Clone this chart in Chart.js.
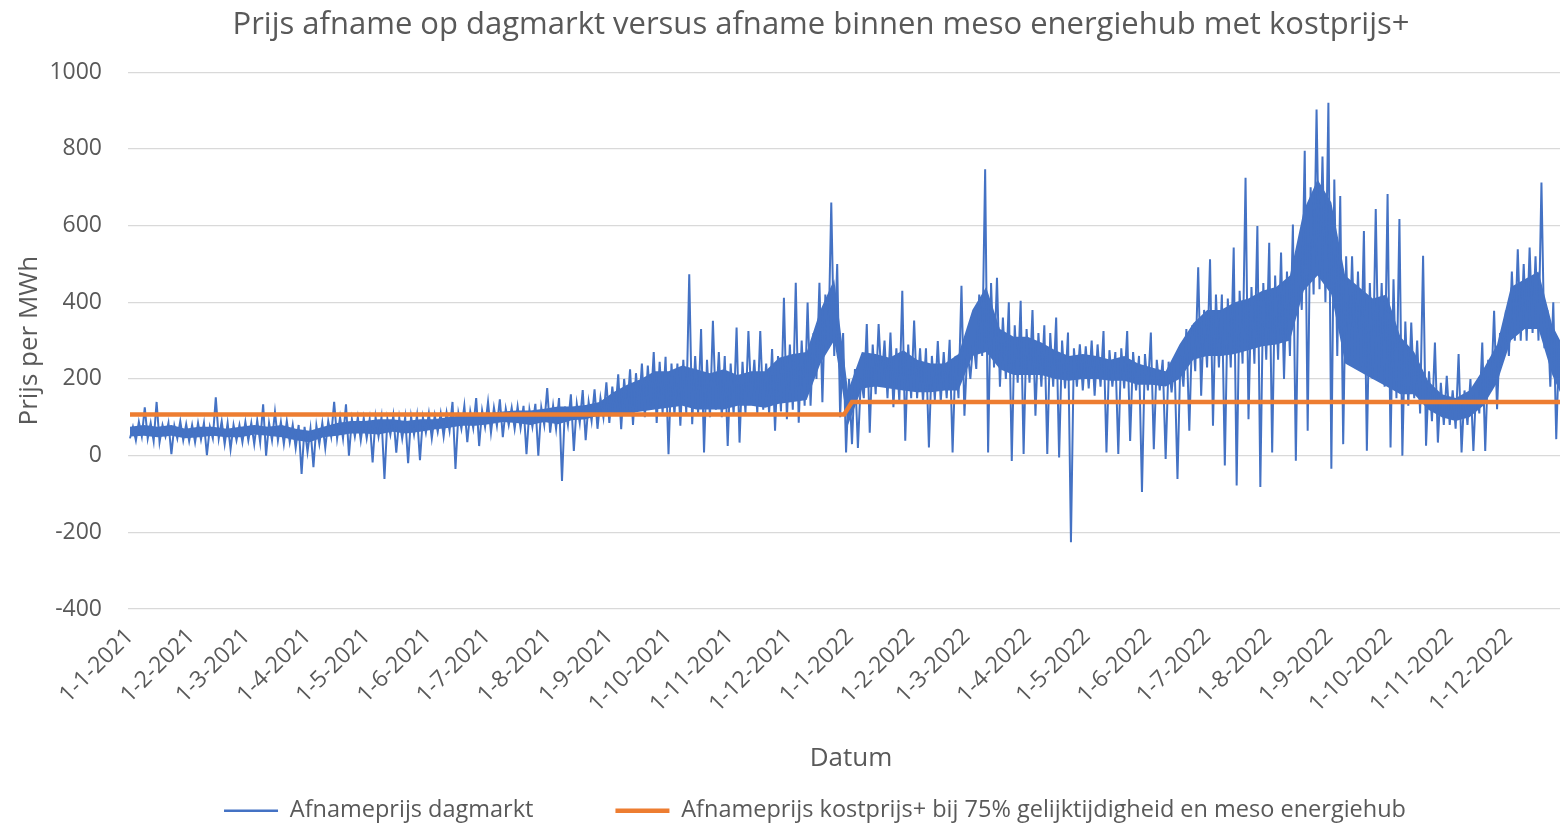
<!DOCTYPE html>
<html>
<head>
<meta charset="utf-8">
<script src="https://cdn.jsdelivr.net/npm/chart.js@4/dist/chart.umd.min.js"></script>
<style>
  html, body { margin: 0; padding: 0; background: #fff; overflow: hidden; }
</style>
</head>
<body>
<canvas id="myChart" width="1574" height="827"></canvas>
<script>
// maanden op de x-as (dag 0 = 1-1-2021)
const maandLabels = ['1-1-2021', '1-2-2021', '1-3-2021', '1-4-2021', '1-5-2021', '1-6-2021',
  '1-7-2021', '1-8-2021', '1-9-2021', '1-10-2021', '1-11-2021', '1-12-2021',
  '1-1-2022', '1-2-2022', '1-3-2022', '1-4-2022', '1-5-2022', '1-6-2022',
  '1-7-2022', '1-8-2022', '1-9-2022', '1-10-2022', '1-11-2022', '1-12-2022'];
const maandDagen = [0, 31, 59, 90, 120, 151, 181, 212, 243, 273, 304, 334,
  365, 396, 424, 455, 485, 516, 546, 577, 608, 638, 669, 699];

const stapDagen = 3;
const dagmarktPiek = [
  75, 88, 126, 85, 140, 80, 85, 78, 90, 82, 80, 85, 85, 75, 152, 90, 85, 80, 80, 88,
  85, 92, 134, 85, 114, 88, 90, 80, 80, 75, 70, 78, 85, 90, 140, 100, 134, 95, 100, 98,
  95, 100, 100, 95, 105, 98, 100, 102, 105, 100, 110, 105, 110, 112, 140, 110, 130, 115, 150, 118,
  140, 125, 147, 122, 125, 128, 130, 120, 135, 125, 176, 130, 150, 128, 160, 135, 171, 140, 173, 150,
  191, 180, 212, 200, 225, 215, 240, 235, 270, 245, 258, 240, 240, 250, 473, 260, 330, 250, 352, 270,
  260, 240, 334, 245, 325, 250, 325, 240, 278, 260, 412, 290, 451, 300, 399, 320, 451, 420, 660, 500,
  320, 200, 226, 200, 343, 290, 343, 300, 321, 280, 430, 290, 352, 280, 280, 260, 299, 270, 302, 260,
  443, 280, 300, 420, 747, 450, 464, 360, 400, 340, 404, 330, 380, 320, 340, 320, 360, 300, 321, 280,
  290, 285, 300, 290, 325, 275, 270, 280, 325, 270, 260, 265, 321, 250, 250, 245, 245, 260, 330, 340,
  491, 380, 512, 420, 420, 410, 543, 430, 725, 440, 599, 450, 555, 470, 530, 480, 603, 520, 795, 700,
  903, 780, 920, 720, 677, 520, 520, 480, 586, 450, 643, 450, 682, 460, 617, 350, 347, 300, 521, 220,
  295, 190, 208, 170, 265, 170, 200, 190, 295, 250, 378, 320, 378, 480, 538, 500, 543, 520, 712, 380, 400, 300
];
const dagmarktDal = [
  45, 40, 50, 45, 38, 35, 50, 4, 45, 40, 38, 35, 42, 1, 45, 45, 30, 17, 40, 35,
  40, 30, 35, 0, 40, 40, 30, 35, 20, -48, 10, -30, 30, 20, 50, 45, 45, 0, 50, 40,
  45, -18, 50, -61, 55, 8, 45, -20, 55, -12, 60, 45, 62, 50, 65, -35, 70, 35, 72, 25,
  75, 60, 78, 48, 80, 70, 72, 4, 75, 0, 80, 60, 70, -66, 80, 12, 85, 40, 90, 70,
  100, 85, 110, 69, 115, 80, 120, 100, 130, 85, 110, 4, 105, 78, 110, 82, 110, 8, 100, 120,
  100, 25, 105, 34, 110, 140, 110, 120, 110, 65, 115, 95, 120, 86, 130, 130, 200, 139, 280, 260,
  100, 8, 30, 20, 150, 60, 160, 190, 150, 126, 140, 39, 150, 150, 140, 21, 145, 140, 150, 8,
  150, 104, 200, 226, 260, 8, 230, 180, 200, -14, 190, 4, 190, 104, 180, 4, 180, -5, 175, -226,
  180, 170, 175, 156, 180, 8, 180, 4, 175, 38, 170, -95, 170, 17, 170, -9, 165, -61, 180, 65,
  220, 156, 230, 78, 230, -26, 230, -78, 240, 95, 240, -82, 250, 8, 250, 200, 260, -13, 380, 65,
  420, 434, 400, -34, 260, 30, 250, 250, 230, 13, 200, 200, 180, 21, 150, 0, 130, 150, 110, 26,
  90, 34, 80, 80, 70, 8, 80, 12, 110, 12, 170, 121, 270, 260, 300, 300, 300, 320, 300, 280, 180, 43
];

// kern van de prijsband per week (onder- en bovenkant)
const weekDagen = 7;
const bandLaag = [
  50, 52, 48, 52, 45, 48, 52, 48, 48, 55, 52, 48, 40,
  35, 48, 52, 58, 58,
  55, 62, 58, 62, 68, 72, 78, 78, 82,
  88, 85, 80, 88, 82, 92, 95, 105, 110,
  110, 115, 120, 125,
  130, 120, 120, 120, 130, 130, 125, 135, 140, 145, 240, 300, 80, 175,
  180, 175, 170, 165, 165, 170, 170, 260, 270, 225, 210, 210,
  210, 200, 195, 200, 200, 195, 195, 185, 185, 180, 200,
  250, 260, 260, 265, 275, 285, 290, 300, 430, 470, 420, 240, 220, 200, 180,
  160, 160, 120, 100, 90, 100, 130, 190, 300, 330, 330, 210, 130
];
const bandHoog = [
  75, 80, 75, 80, 70, 75, 75, 70, 75, 80, 75, 80, 70,
  65, 75, 85, 90, 90,
  95, 95, 90, 95, 95, 100, 105, 105, 110,
  115, 118, 118, 122, 128, 128, 132, 140, 165,
  185, 200, 220, 220,
  235, 225, 215, 225, 210, 220, 220, 255, 265, 270, 380, 460, 170, 270,
  265, 255, 275, 250, 240, 240, 265, 380, 440, 330, 310, 310,
  295, 275, 260, 265, 260, 250, 260, 240, 230, 220, 290,
  345, 380, 380, 400, 410, 430, 440, 470, 640, 720, 660, 470, 440, 410, 420,
  310, 270, 195, 160, 150, 170, 225, 290, 440, 460, 480, 340, 270
];

// kostprijs+ lijn
const kostprijsDagen = [0, 362, 366, 732];
const kostprijs = [107, 107, 140, 140];

const blauw = '#4472C4';
const oranje = '#ED7D31';
const grijs = '#595959';
const lettertype = "'Open Sans', 'Noto Sans', sans-serif";

// dal en piek per blok om en om, zo ontstaat de dichte lijn
const dagmarktPunten = dagmarktDal.flatMap((dal, i) => [
  { x: i * stapDagen, y: dal },
  { x: i * stapDagen + stapDagen / 2, y: dagmarktPiek[i] }
]);

// legenda en titel op de juiste plek zetten
const plaatsing = {
  id: 'plaatsing',
  beforeUpdate(chart) {
    const lg = chart.legend;
    if (lg && !lg._vast) {
      const origFit = lg.fit.bind(lg);
      lg.fit = function () { origFit(); this.height = 40; };
      lg._vast = true;
    }
  },
  afterLayout(chart) {
    const lg = chart.legend;
    lg.top -= lg.options.labels.padding - 12;
    lg.left += 28;
    lg.right += 28;
    const t = chart.titleBlock;
    t.left += 34;
    t.right += 34;
  }
};

const ctx = document.getElementById('myChart').getContext('2d');

new Chart(ctx, {
  type: 'line',
  data: {
    datasets: [{
      label: 'Afnameprijs dagmarkt',
      data: dagmarktPunten,
      borderColor: blauw,
      backgroundColor: blauw,
      borderWidth: 2,
      pointRadius: 0,
      order: 1
    }, {
      label: 'Afnameprijs kostprijs+ bij 75% gelijktijdigheid en meso energiehub',
      data: kostprijs.map((v, i) => ({ x: kostprijsDagen[i], y: v })),
      borderColor: oranje,
      backgroundColor: oranje,
      borderWidth: 4.5,
      pointRadius: 0,
      order: 0
    }, {
      label: '',
      data: bandLaag.map((v, i) => ({ x: i * weekDagen, y: v })),
      borderWidth: 0,
      pointRadius: 0,
      fill: false,
      order: 2
    }, {
      label: '',
      data: bandHoog.map((v, i) => ({ x: i * weekDagen, y: v })),
      borderWidth: 0,
      pointRadius: 0,
      backgroundColor: blauw,
      fill: '-1',
      order: 2
    }]
  },
  options: {
    responsive: false,
    animation: false,
    layout: { padding: 0 },
    scales: {
      x: {
        type: 'linear',
        min: -1,
        max: 732,
        afterBuildTicks(scale) {
          scale.ticks = maandDagen.map(d => ({ value: d }));
        },
        afterFit(scale) { scale.height = 178; },
        ticks: {
          autoSkip: false,
          minRotation: 45,
          maxRotation: 45,
          padding: 6,
          color: grijs,
          font: { family: lettertype, size: 23 },
          callback(v) {
            const i = maandDagen.indexOf(v);
            return i >= 0 ? maandLabels[i] : '';
          }
        },
        grid: { display: false },
        border: { display: false },
        title: {
          display: true,
          text: 'Datum',
          color: grijs,
          font: { family: lettertype, size: 26 },
          padding: { top: 0, bottom: 13 }
        }
      },
      y: {
        min: -400,
        max: 1000,
        afterFit(scale) { scale.width = 128; },
        ticks: {
          stepSize: 200,
          padding: 26,
          color: grijs,
          font: { family: lettertype, size: 23 },
          callback: v => String(v)
        },
        grid: { color: '#d9d9d9', lineWidth: 1.3, drawTicks: false },
        border: { display: false },
        title: {
          display: true,
          text: 'Prijs per MWh',
          color: grijs,
          font: { family: lettertype, size: 26 },
          padding: { top: 14, bottom: 0 }
        }
      }
    },
    plugins: {
      title: {
        display: true,
        text: 'Prijs afname op dagmarkt versus afname binnen meso energiehub met kostprijs+',
        color: grijs,
        font: { family: lettertype, size: 31, weight: 'normal' },
        padding: { top: 7, bottom: 28 }
      },
      legend: {
        position: 'bottom',
        labels: {
          usePointStyle: true,
          pointStyle: 'line',
          pointStyleWidth: 54,
          padding: 82,
          color: grijs,
          font: { family: lettertype, size: 23.5 },
          generateLabels(chart) {
            const items = Chart.defaults.plugins.legend.labels.generateLabels(chart);
            return items
              .filter(it => it.text)
              .sort((a, b) => a.datasetIndex - b.datasetIndex)
              .map(it => Object.assign(it, {
                pointStyle: 'line',
                lineWidth: it.datasetIndex === 0 ? 2.5 : 4.5
              }));
          }
        }
      },
      tooltip: { enabled: false }
    }
  },
  plugins: [plaatsing]
});
</script>
</body>
</html>
